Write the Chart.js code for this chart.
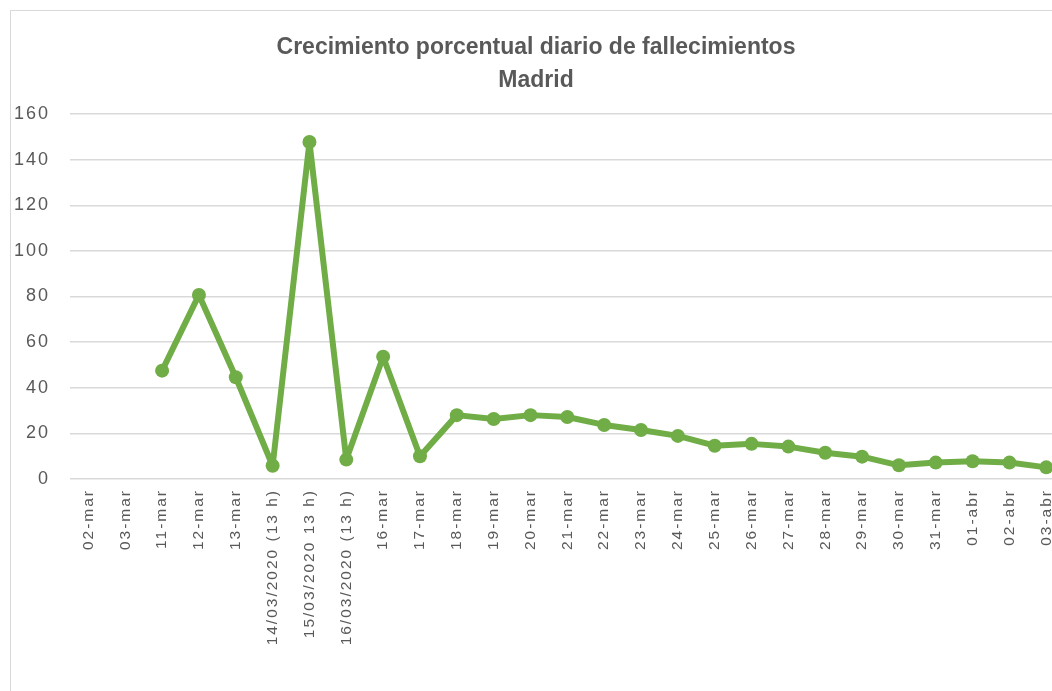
<!DOCTYPE html>
<html>
<head>
<meta charset="utf-8">
<script src="https://cdn.jsdelivr.net/npm/chart.js@4"></script>
<style>
    html, body { margin: 0; padding: 0; background: #fff; overflow: hidden; width: 1052px; height: 691px; }
    #frame { position: absolute; left: 10px; top: 10px; width: 1100px; height: 720px; border: 1px solid #d9d9d9; }
    #wrap { position: absolute; left: 0; top: 0; width: 1075px; height: 691px; }
    #title {
        position: absolute; left: 0; top: 30px; width: 1072px; text-align: center;
        font-family: 'Liberation Sans', Arial, sans-serif; font-weight: bold; font-size: 23px;
        line-height: 33px; color: #595959;
    }
</style>
</head>
<body>
<div id="frame"></div>
<div id="wrap"><canvas id="chart"></canvas></div>
<div id="title">Crecimiento porcentual diario de fallecimientos<br>Madrid</div>
<script>
// Categories (x axis)
const labels = [
    '02-mar', '03-mar', '11-mar', '12-mar', '13-mar',
    '14/03/2020 (13 h)', '15/03/2020 13 h)', '16/03/2020 (13 h)',
    '16-mar', '17-mar', '18-mar', '19-mar', '20-mar', '21-mar', '22-mar',
    '23-mar', '24-mar', '25-mar', '26-mar', '27-mar', '28-mar', '29-mar',
    '30-mar', '31-mar', '01-abr', '02-abr', '03-abr'
];

// Daily percentage growth of deaths
const growth = [
    null, null, 47.5, 80.7, 44.6,
    5.8, 147.7, 8.5,
    53.6, 10.0, 28.0, 26.3, 28.0, 27.2, 23.7,
    21.5, 18.9, 14.6, 15.4, 14.2, 11.5, 9.8,
    6.0, 7.2, 7.8, 7.2, 5.1
];

const yTicks = [0, 20, 40, 60, 80, 100, 120, 140, 160];

const green = '#70ad47';
const textGray = '#595959';

// wider glyph spacing, like the reference tick labels
const spacing = {
    id: 'spacing',
    beforeDraw(chart) { chart.ctx.letterSpacing = '2px'; }
};

new Chart(document.getElementById('chart').getContext('2d'), {
    type: 'line',
    data: {
        labels: labels,
        datasets: [{
            data: growth,
            borderColor: green,
            backgroundColor: green,
            borderWidth: 6,
            borderJoinStyle: 'round',
            pointRadius: 7,
            pointHoverRadius: 7,
            pointBorderWidth: 0,
            tension: 0,
            spanGaps: false
        }]
    },
    plugins: [spacing],
    options: {
        responsive: true,
        maintainAspectRatio: false,
        animation: false,
        layout: { padding: { top: 114 } },
        plugins: {
            legend: { display: false },
            tooltip: { enabled: false },
            title: { display: false }
        },
        scales: {
            x: {
                offset: true,
                grid: { display: false, drawTicks: false },
                border: { display: false },
                ticks: {
                    color: textGray,
                    font: { family: 'Liberation Sans', size: 15.5 },
                    minRotation: 90,
                    maxRotation: 90,
                    autoSkip: false,
                    padding: 10
                },
                afterFit: (scale) => { scale.height = 212; }
            },
            y: {
                min: 0,
                max: 160,
                afterBuildTicks: (scale) => { scale.ticks = yTicks.map(v => ({ value: v })); },
                grid: { color: '#d9d9d9', lineWidth: 1.5, drawTicks: false },
                border: { display: false },
                ticks: {
                    color: textGray,
                    font: { family: 'Liberation Sans', size: 18 },
                    padding: 20
                },
                afterFit: (scale) => { scale.width = 70; }
            }
        }
    }
});
</script>
</body>
</html>
